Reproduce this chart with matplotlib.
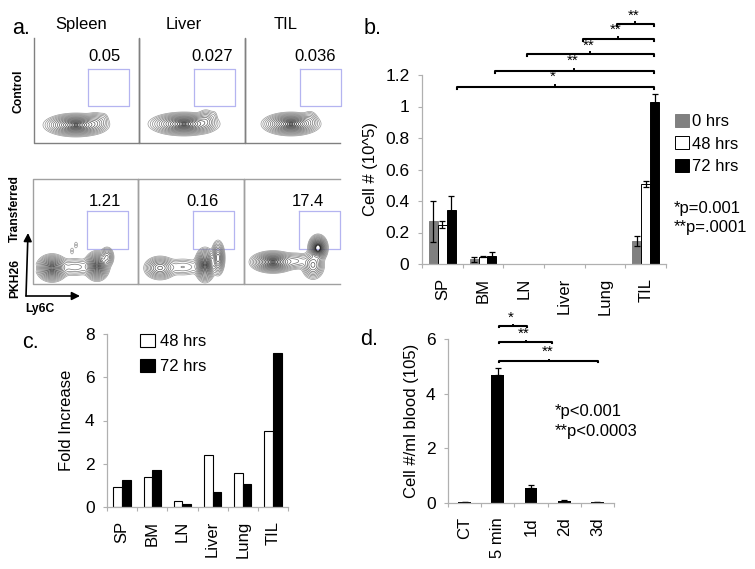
import numpy as np
import matplotlib
matplotlib.use('Agg')
import matplotlib.pyplot as plt

plt.rcParams['font.family'] = ['Liberation Sans', 'DejaVu Sans']
plt.rcParams['font.size'] = 12

W, H = 755, 569
AXCOL = '#b0b0b0'

# panel b
cats_b = ['SP', 'BM', 'LN', 'Liver', 'Lung', 'TIL']
hrs0 = [0.27, 0.03, 0.003, 0.003, 0.003, 0.145]
hrs48 = [0.25, 0.045, 0.003, 0.003, 0.003, 0.51]
hrs72 = [0.345, 0.05, 0.003, 0.003, 0.003, 1.03]
err0 = [0.13, 0.015, 0, 0, 0, 0.03]
err48 = [0.02, 0.003, 0, 0, 0, 0.02]
err72 = [0.085, 0.025, 0, 0, 0, 0.05]

# panel c
fold48 = [0.93, 1.4, 0.3, 2.4, 1.55, 3.5]
fold72 = [1.27, 1.7, 0.15, 0.68, 1.05, 7.1]

# panel d
cats_d = ['CT', '5 min', '1d', '2d', '3d']
blood = [0.03, 4.7, 0.55, 0.09, 0.03]
blood_err = [0.01, 0.23, 0.12, 0.02, 0.01]

# panel a, gate percentages
ctrl_pct = ['0.05', '0.027', '0.036']
trans_pct = ['1.21', '0.16', '17.4']

# contour blobs: cx, cy, sx, sy, height
blobs_ctrl = [
    [(76, 125, 11, 4.0, 1.0), (96, 122, 5, 4.2, 0.12), (104, 118, 2.4, 3, 0.02)],
    [(184, 124, 12, 4.0, 1.0), (206, 120, 4, 4.5, 0.14), (214, 116, 2, 3.2, 0.02)],
    [(291, 124, 10, 4.0, 1.0), (310, 119, 3.6, 4, 0.06)],
]
blobs_trans = [
    [(52, 268, 5.5, 4.8, 1.0), (75, 267, 9, 4, 0.1), (97, 266, 4.4, 5.2, 1.0), (107, 257, 2.8, 4, 0.25),
     (72, 251, 1.4, 2.6, 0.02), (76, 245, 1.4, 2.6, 0.02)],
    [(160, 268, 6, 4.4, 0.45), (183, 267, 9, 4, 0.08), (205, 265, 3.6, 6, 1.0), (218, 258, 2.6, 6.5, 0.5)],
    [(273, 262, 8, 3.8, 1.0), (296, 261, 7, 3.6, 0.12), (313, 265, 4.4, 5.5, 0.35), (318, 248, 3.4, 4.6, 1.2)],
]


def px_axes(fig, left, right, top, bottom):
    return fig.add_axes([left / W, 1 - bottom / H, (right - left) / W, (bottom - top) / H])


def style_axes(ax, labels):
    for s in ['top', 'right']:
        ax.spines[s].set_visible(False)
    for s in ['left', 'bottom']:
        ax.spines[s].set_color(AXCOL)
        ax.spines[s].set_linewidth(0.9)
    n = len(labels)
    ax.set_xlim(-0.5, n - 0.5)
    ax.set_xticks(np.arange(n + 1) - 0.5)
    ax.set_xticklabels([])
    ax.tick_params(axis='x', color=AXCOL, length=3, width=0.8)
    ax.tick_params(axis='y', color=AXCOL, length=3, width=0.8, labelsize=12.5, pad=6)
    for i, lab in enumerate(labels):
        ax.annotate(lab, (i, 0), xycoords=('data', 'axes fraction'), xytext=(0, -10),
                    textcoords='offset points', rotation=90, ha='center', va='top', fontsize=12)


def bracket(ax, x0, x1, y, tick, stars, star_x=None, star_dy=0.0):
    # bracket above the bars, drawn in data units
    xm = (x0 + x1) / 2
    ax.plot([x0, x0, x1, x1], [y - tick, y, y, y - tick], color='black', lw=1.5, clip_on=False)
    ax.plot([xm, xm], [y, y + tick], color='black', lw=1.4, clip_on=False)
    ax.text(xm if star_x is None else star_x, y + star_dy, stars, ha='center', va='center',
            fontsize=11, clip_on=False)


fig = plt.figure(figsize=(7.55, 5.69), dpi=100)

# panel a is laid out in picture pixels
bg = fig.add_axes([0, 0, 1, 1])
bg.set_xlim(0, W)
bg.set_ylim(H, 0)
bg.axis('off')


def ptext(x, y, s, **kw):
    kw.setdefault('va', 'center')
    bg.text(x, y, s, **kw)


def flow(blobs, xr, yr):
    xs = np.linspace(xr[0], xr[1], 300)
    ys = np.linspace(yr[0], yr[1], 180)
    X, Y = np.meshgrid(xs, ys)
    Z = np.zeros_like(X)
    for cx, cy, sx, sy, h in blobs:
        Z += h * np.exp(-((X - cx) / sx) ** 2 / 2 - ((Y - cy) / sy) ** 2 / 2)
    # contour levels evenly spaced in radius, as the flow plots look
    radii = np.linspace(3.0, 0.2, 16)
    levels = np.exp(-radii ** 2 / 2)
    cols = [str(v) for v in np.linspace(0.6, 0.1, 16)]
    bg.contour(X, Y, Z, levels=levels, colors=cols, linewidths=0.5)


col_x = [34, 139, 245]
# frame lines of the flow plots
bg.plot([34, 34, 139, 139, 139, 245, 245, 245, 340], [38, 143, 143, 38, 143, 143, 38, 143, 143],
        color='#808080', lw=1.0)
bg.plot([340, 33, 33, 33, 138, 138, 138, 244, 244, 244, 340],
        [179, 179, 284, 284, 284, 179, 284, 284, 179, 284, 284], color='#a0a0a0', lw=1.0)

for i, name in enumerate(['Spleen', 'Liver', 'TIL']):
    ptext([55, 166, 274][i], 24, name, fontsize=12)
    dx = [0, 106, 212][i]
    bg.plot(np.array([88, 129, 129, 88, 88]) + dx, [69, 69, 106, 106, 69], color='#b4b4f0', lw=0.9)
    bg.plot(np.array([87, 128, 128, 87, 87]) + dx, [211, 211, 249, 249, 211], color='#b4b4f0', lw=0.9)
    flow(blobs_ctrl[i], (col_x[i] + 2, col_x[i] + 96), (100, 142))
    flow(blobs_trans[i], (col_x[i] + 2, col_x[i] + 95), (225, 283))

for i, x in enumerate([88, 191, 294]):
    ptext(x, 56, ctrl_pct[i], fontsize=12)
for i, x in enumerate([89, 186, 292]):
    ptext(x, 201, trans_pct[i], fontsize=12)

ptext(19, 91, 'Control', rotation=90, fontsize=8.7, fontweight='bold', ha='center')
ptext(15, 208, 'Transferred', rotation=90, fontsize=8.7, fontweight='bold', ha='center')
ptext(15, 278, 'PKH26', rotation=90, fontsize=8.7, fontweight='bold', ha='center')
ptext(25, 309, 'Ly6C', fontsize=8.7, fontweight='bold')
bg.annotate('', xy=(28, 233), xytext=(26, 296), arrowprops=dict(arrowstyle='-|>', color='black', lw=1.2, shrinkA=0, shrinkB=0))
bg.annotate('', xy=(80, 296), xytext=(26, 296), arrowprops=dict(arrowstyle='-|>', color='black', lw=1.2, shrinkA=0, shrinkB=0))

ptext(12, 28, 'a.', fontsize=15.5)
ptext(364, 28, 'b.', fontsize=15.5)
ptext(22, 342, 'c.', fontsize=15.5)
ptext(360, 339, 'd.', fontsize=15.5)

# panel b
axb = px_axes(fig, 422, 666, 75, 264)
axb.patch.set_alpha(0)
style_axes(axb, cats_b)
xb = np.arange(len(cats_b))
wb = 0.22
for off, vals, errs, col, lab in [(-wb, hrs0, err0, '#808080', '0 hrs'),
                                  (0, hrs48, err48, 'white', '48 hrs'),
                                  (wb, hrs72, err72, 'black', '72 hrs')]:
    axb.bar(xb + off, vals, wb, color=col, edgecolor='black' if col == 'white' else col, lw=0.7, label=lab)
    e = np.array(errs, dtype=float)
    e[e == 0] = np.nan
    axb.errorbar(xb + off, vals, yerr=e, fmt='none', ecolor='black', elinewidth=0.9, capsize=2.2, capthick=0.9)
axb.set_ylim(0, 1.2)
axb.set_yticks([0, 0.2, 0.4, 0.6, 0.8, 1, 1.2])
axb.set_yticklabels(['0', '0.2', '0.4', '0.6', '0.8', '1', '1.2'])
axb.set_ylabel('Cell # (10^5)', fontsize=12, labelpad=5)
axb.legend(loc='upper left', bbox_to_anchor=(1.035, 0.795), frameon=False, fontsize=12, borderpad=0,
           borderaxespad=0, handlelength=0.85, handleheight=0.85, handletextpad=0.2, labelspacing=0.42)
bracket(axb, 4.29, 5.2, 1.524, 0.012, '**', 4.7, 0.055)
bracket(axb, 3.46, 5.2, 1.43, 0.012, '**', 4.27, 0.055)
bracket(axb, 2.08, 5.2, 1.333, 0.012, '**', 3.6, 0.055)
bracket(axb, 1.29, 5.2, 1.225, 0.012, '**', 3.21, 0.065)
bracket(axb, 0.36, 5.2, 1.124, 0.012, '*', 2.72, 0.065)
ptext(674, 208, '*p=0.001', fontsize=12)
ptext(674, 227, '**p=.0001', fontsize=12)

# panel c
axc = px_axes(fig, 107, 288, 334, 507)
axc.patch.set_alpha(0)
style_axes(axc, cats_b)
wc = 0.29
axc.bar(xb - wc / 2, fold48, wc, color='white', edgecolor='black', lw=0.8, label='48 hrs')
axc.bar(xb + wc / 2, fold72, wc, color='black', edgecolor='black', lw=0.8, label='72 hrs')
axc.set_ylim(0, 8)
axc.set_yticks([0, 2, 4, 6, 8])
axc.set_ylabel('Fold Increase', fontsize=12, labelpad=8)
axc.legend(loc='upper left', bbox_to_anchor=(0.18, 1.0), frameon=False, fontsize=12, borderpad=0,
           borderaxespad=0, handlelength=0.9, handleheight=0.85, handletextpad=0.3, labelspacing=0.55)

# panel d
axd = px_axes(fig, 448, 614, 339, 503)
axd.patch.set_alpha(0)
style_axes(axd, cats_d)
xd = np.arange(len(cats_d))
axd.bar(xd, blood, 0.39, color='black')
axd.errorbar(xd, blood, yerr=[np.zeros(len(blood)), blood_err], fmt='none', ecolor='black',
             elinewidth=0.9, capsize=2.2, capthick=0.9)
axd.set_ylim(0, 6)
axd.set_yticks([0, 2, 4, 6])
axd.set_ylabel('Cell #/ml blood (105)', fontsize=12, labelpad=5)
bracket(axd, 1.04, 1.88, 6.48, 0.05, '*', 1.4, 0.3)
bracket(axd, 1.04, 2.63, 5.89, 0.05, '**', 1.77, 0.3)
bracket(axd, 1.04, 4.02, 5.2, 0.05, '**', 2.5, 0.32)
ptext(555, 411, '*p<0.001', fontsize=12)
ptext(555, 431, '**p<0.0003', fontsize=12)

fig.savefig('out.png', dpi=100)
